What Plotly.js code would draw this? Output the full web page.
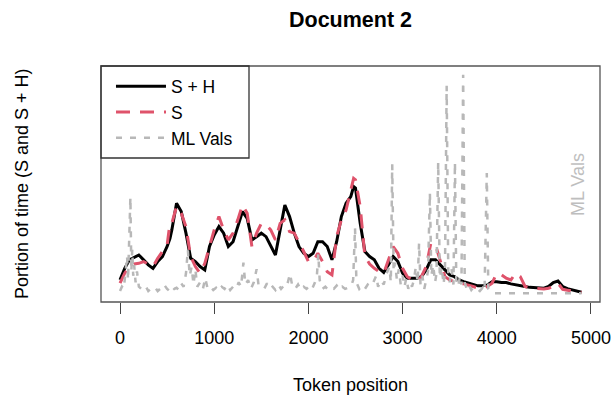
<!DOCTYPE html>
<html>
<head>
<meta charset="utf-8">
<script src="https://cdn.plot.ly/plotly-3.0.1.min.js"></script>
<style>html,body{margin:0;padding:0;background:#fff;}#chart{width:615px;height:396px;}</style>
</head>
<body>
<div id="chart"></div>
<script>
// Token positions for the smoothed S+H and S series
var tokens = [0,50,100,150,200,250,300,350,400,450,500,530,550,600,650,700,750,800,850,900,950,
  1000,1050,1100,1150,1200,1250,1300,1350,1400,1450,1500,1550,1600,1650,1700,1750,1800,1850,1900,1950,
  2000,2050,2100,2150,2200,2250,2300,2350,2400,2450,2480,2500,2550,2600,2650,2700,2750,2800,2850,2900,2950,
  3000,3050,3100,3150,3200,3250,3300,3350,3400,3450,3500,3550,3600,3650,3700,3750,3800,3850,3900,3950,
  4000,4050,4100,4150,4200,4250,4300,4350,4400,4450,4500,4550,4600,4650,4700,4750,4800,4850,4900];

// Portion of time, S + H
var sh = [0.061,0.114,0.153,0.165,0.175,0.153,0.130,0.114,0.145,0.168,0.214,0.250,0.290,0.412,0.374,0.275,0.160,0.145,0.122,0.107,0.214,
  0.267,0.305,0.275,0.214,0.236,0.305,0.374,0.343,0.244,0.259,0.275,0.259,0.214,0.175,0.290,0.404,0.351,0.275,0.214,0.183,
  0.168,0.183,0.236,0.236,0.214,0.153,0.236,0.351,0.412,0.442,0.488,0.481,0.320,0.191,0.168,0.153,0.114,0.095,0.130,0.168,0.145,
  0.092,0.069,0.069,0.069,0.076,0.107,0.153,0.153,0.130,0.107,0.084,0.076,0.061,0.053,0.046,0.038,0.034,0.034,0.038,0.053,
  0.053,0.049,0.049,0.043,0.038,0.034,0.031,0.027,0.026,0.024,0.023,0.031,0.049,0.056,0.031,0.021,0.015,0.009,0.005];

// Portion of time, S
var s = [0.046,0.092,0.122,0.134,0.137,0.145,0.134,0.122,0.160,0.191,0.221,0.320,0.320,0.397,0.366,0.305,0.168,0.122,0.092,0.137,0.214,
  0.290,0.351,0.290,0.244,0.275,0.336,0.404,0.366,0.214,0.275,0.320,0.313,0.290,0.244,0.320,0.336,0.282,0.275,0.236,0.191,
  0.145,0.145,0.183,0.145,0.099,0.084,0.259,0.336,0.381,0.473,0.526,0.519,0.397,0.168,0.134,0.114,0.099,0.092,0.153,0.214,0.183,
  0.114,0.076,0.061,0.053,0.076,0.122,0.229,0.221,0.153,0.076,0.061,0.053,0.046,0.043,0.038,0.031,0.023,0.023,0.031,0.046,
  0.092,0.084,0.069,0.061,0.092,0.076,0.031,0.024,0.023,0.020,0.020,0.023,0.031,0.046,0.018,0.014,0.009,0.006,0.005];

// ML values (right-hand scale)
var mlTokens = [0,20,40,60,75,85,95,110,120,130,140,150,165,180,200,225,250,275,300,325,350,375,400,425,450,475,500,525,550,575,600,625,650,675,
  700,720,740,760,780,800,820,850,880,905,930,960,990,1020,1050,1080,1110,1140,1170,1200,1230,1260,1285,1310,1330,1360,1390,1420,1450,1470,
  1500,1530,1560,1590,1620,1650,1680,1710,1740,1770,1805,1830,1860,1890,1920,1950,1980,2010,2040,2070,2090,2105,2120,2150,2180,2210,2240,2270,
  2300,2330,2360,2390,2420,2450,2475,2495,2510,2540,2570,2600,2630,2660,2690,2720,2740,2770,2800,2830,2860,2875,2890,2905,2920,2940,2960,2980,
  3000,3020,3040,3060,3080,3100,3120,3140,3160,3175,3190,3210,3230,3250,3270,3290,3305,3325,3345,3360,3378,3395,3415,3435,3450,3468,3485,
  3500,3520,3540,3556,3570,3590,3610,3625,3643,3660,3680,3700,3730,3760,3790,3820,3850,3870,3894,3910,3940,3960,4900];
var mlVals = [0.010,0.030,0.020,0.090,0.170,0.060,0.210,0.440,0.100,0.200,0.080,0.130,0.050,0.100,0.030,0.020,0.015,0.030,0.010,0.020,0.015,0.025,0.010,0.020,0.015,0.035,0.020,0.010,0.030,0.020,0.025,0.015,0.045,0.030,
  0.090,0.200,0.080,0.120,0.040,0.110,0.030,0.050,0.020,0.070,0.020,0.030,0.015,0.025,0.010,0.030,0.020,0.040,0.015,0.030,0.020,0.050,0.030,0.140,0.040,0.060,0.020,0.050,0.110,0.040,
  0.030,0.020,0.045,0.020,0.030,0.015,0.040,0.020,0.035,0.030,0.090,0.030,0.020,0.040,0.015,0.030,0.020,0.035,0.020,0.050,0.080,0.180,0.060,0.020,0.030,0.015,0.025,0.020,
  0.035,0.015,0.030,0.020,0.025,0.030,0.060,0.300,0.050,0.020,0.035,0.020,0.040,0.030,0.050,0.080,0.030,0.060,0.040,0.090,0.120,0.050,0.590,0.100,0.140,0.060,0.110,0.040,
  0.080,0.030,0.070,0.020,0.050,0.030,0.060,0.120,0.050,0.230,0.040,0.080,0.020,0.060,0.100,0.460,0.080,0.130,0.050,0.090,0.600,0.070,0.120,0.040,0.100,0.950,0.080,
  0.050,0.110,0.040,0.600,0.060,0.030,0.080,0.040,1.000,0.050,0.020,0.040,0.015,0.030,0.020,0.010,0.025,0.010,0.550,0.020,0.005,0.000,0.000];

var xTicks = [0,1000,2000,3000,4000,5000];
var xTickText = ['0','1000','2000','3000','4000','5000'];

var FONT = 'Liberation Sans, Arial, Helvetica, sans-serif';

var traces = [
  {x: tokens, y: sh, type: 'scatter', mode: 'lines', name: 'S + H',
   line: {color: '#000000', width: 3}},
  {x: tokens, y: s, type: 'scatter', mode: 'lines', name: 'S',
   line: {color: '#DF536B', width: 3, dash: '14px,10px'}},
  {x: mlTokens, y: mlVals, type: 'scatter', mode: 'lines', name: 'ML Vals', yaxis: 'y2',
   line: {color: '#B8B8B8', width: 2.5, dash: '6px,8px'}}
];

var layout = {
  width: 615, height: 396,
  margin: {l: 101, r: 15, t: 66, b: 94},
  paper_bgcolor: '#ffffff', plot_bgcolor: '#ffffff',
  font: {family: FONT, size: 18, color: '#000'},
  title: {text: '<b>Document 2</b>', font: {family: FONT, size: 21.5, color: '#000'},
          x: 0.5, xref: 'paper', xanchor: 'center', y: 0.95, yref: 'container', yanchor: 'middle'},
  showlegend: true,
  legend: {x: 0.02, y: 0.99, xanchor: 'left', yanchor: 'top', bgcolor: 'rgba(0,0,0,0)',
           borderwidth: 0, font: {family: FONT, size: 17.5, color: '#000'}, itemwidth: 50, tracegroupgap: 0},
  xaxis: {range: [-202, 5096], tickvals: xTicks, ticktext: xTickText, ticks: 'outside', ticklen: 11,
          tickwidth: 1, tickcolor: '#444', showgrid: false, zeroline: false, showline: false, ticklabelstandoff: 8,
          tickfont: {family: FONT, size: 18, color: '#000'}, fixedrange: true},
  yaxis: {range: [-0.04, 1.04], showticklabels: false, ticks: '', showgrid: false, zeroline: false, showline: false, fixedrange: true},
  yaxis2: {range: [-0.04, 1.04], overlaying: 'y', visible: false, fixedrange: true},
  shapes: [
    {type: 'rect', xref: 'paper', yref: 'paper', x0: 0, x1: 1, y0: 0, y1: 1, line: {color: '#555', width: 1.3}},
    {type: 'rect', xref: 'paper', yref: 'paper', x0: 0, x1: 148/499, y0: 1 - 92/236, y1: 1, line: {color: '#333', width: 1.3}}
  ],
  annotations: [
    {text: 'Token position', xref: 'paper', yref: 'paper', x: 0.5, y: (302-385)/236, xanchor: 'center', yanchor: 'middle',
     showarrow: false, font: {family: FONT, size: 18, color: '#000'}},
    {text: 'Portion of time (S and S + H)', xref: 'paper', yref: 'paper', x: (22-101)/499, y: 0.5, textangle: -90,
     xanchor: 'center', yanchor: 'middle', showarrow: false, font: {family: FONT, size: 18, color: '#000'}},
    {text: 'ML Vals', xref: 'paper', yref: 'paper', x: (578-101)/499, y: (302-185)/236, textangle: -90,
     xanchor: 'center', yanchor: 'middle', showarrow: false, font: {family: FONT, size: 18, color: '#BEBEBE'}}
  ]
};

Plotly.newPlot('chart', traces, layout, {staticPlot: true, displayModeBar: false});
</script>
</body>
</html>
